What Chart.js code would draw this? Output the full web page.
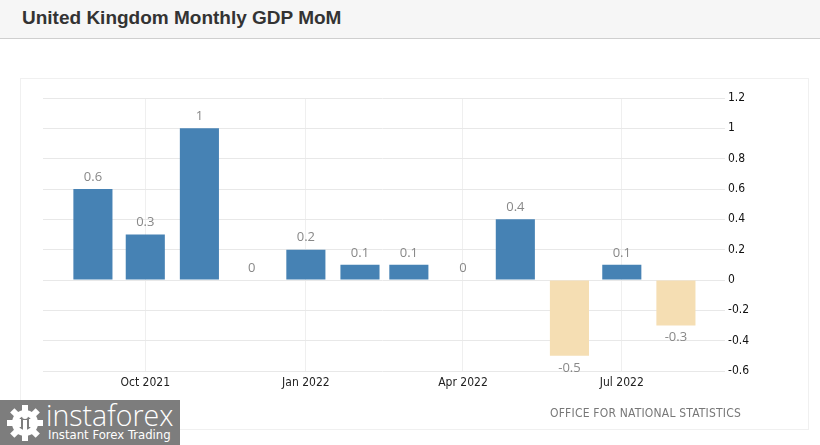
<!DOCTYPE html>
<html>
<head>
<meta charset="utf-8">
<script src="https://cdn.jsdelivr.net/npm/chart.js@4"></script>
<style>
  html, body { margin:0; padding:0; width:820px; height:445px; overflow:hidden; background:#fff; font-family:"Liberation Sans", Arial, sans-serif; }
  #titlebar { position:absolute; left:0; top:0; width:820px; height:38px; background:#f6f6f6; border-bottom:1px solid #cfcfcf; }
  #title { position:absolute; left:22px; top:7px; font-size:19px; font-weight:bold; color:#333; }
  #panel { position:absolute; left:20px; top:78px; width:787px; height:350px; border:1px solid #f0f0f0; }
  #wrap { position:absolute; left:0; top:0; width:820px; height:445px; }
  #source { position:absolute; right:79px; top:406px; font-family:"DejaVu Sans Condensed", sans-serif; font-size:12px; color:#777; letter-spacing:0.2px; }
  #logo { position:absolute; left:0; top:400px; width:180px; height:45px; background:#7d7d7d; color:#fff; overflow:hidden; }
  #logo .big { position:absolute; left:46px; top:-3px; font-family:"Open Sans", sans-serif; font-weight:300; font-size:28.5px; line-height:36px; }
  #logo .small { position:absolute; left:48px; top:27px; font-family:"Liberation Sans Narrow","DejaVu Sans Condensed", sans-serif; font-size:13px; line-height:15px; }
  #logo svg { position:absolute; left:5px; top:3px; }
</style>
</head>
<body>
<div id="titlebar"><div id="title">United Kingdom Monthly GDP MoM</div></div>
<div id="panel"></div>
<div id="wrap"><canvas id="c" width="820" height="445"></canvas></div>
<div id="source">OFFICE FOR NATIONAL STATISTICS</div>
<div id="logo">
  <svg width="40" height="40" viewBox="0 0 40 40">
    <g fill="#fff">
      <circle cx="20" cy="20" r="13"/>
      <rect x="17" y="2" width="6" height="8"/>
      <rect x="17" y="30" width="6" height="8"/>
      <rect x="2" y="17" width="8" height="6"/>
      <rect x="30" y="17" width="8" height="6"/>
      <rect x="17" y="2" width="6" height="8" transform="rotate(45 20 20)"/>
      <rect x="17" y="2" width="6" height="8" transform="rotate(-45 20 20)"/>
      <rect x="17" y="30" width="6" height="8" transform="rotate(45 20 20)"/>
      <rect x="17" y="30" width="6" height="8" transform="rotate(-45 20 20)"/>
    </g>
    <circle cx="20" cy="20" r="7" fill="#7d7d7d"/>
    <circle cx="20" cy="13" r="3" fill="#fff"/>
    <rect x="18" y="17" width="4" height="14" fill="#fff"/>
    <rect x="12" y="16" width="4" height="8" fill="#fff"/>
    <rect x="24" y="16" width="4" height="8" fill="#fff"/>
  </svg>
  <div class="big">instaforex</div>
  <div class="small">Instant Forex Trading</div>
</div>
<script>
const categories = ['Sep 2021','Oct 2021','Nov 2021','Dec 2021','Jan 2022','Feb 2022','Mar 2022','Apr 2022','May 2022','Jun 2022','Jul 2022','Aug 2022'];
const values = [0.6, 0.3, 1.0, 0, 0.2, 0.1, 0.1, 0, 0.4, -0.5, 0.1, -0.3];
const xTickLabels = ['Oct 2021', 'Jan 2022', 'Apr 2022', 'Jul 2022'];
const yTicks = [-0.6, -0.4, -0.2, 0, 0.2, 0.4, 0.6, 0.8, 1, 1.2];

const POS = '#4682b4', NEG = '#f5deb3';
const MONTHS = ['Jan','Feb','Mar','Apr','May','Jun','Jul','Aug','Sep','Oct','Nov','Dec'];
// day number of the first of each month (time axis in days)
function dayOf(label) {
  const [m, y] = label.split(' ');
  return Date.UTC(+y, MONTHS.indexOf(m), 1) / 86400000;
}
const day0 = dayOf(categories[0]);
const xs = categories.map(c => dayOf(c) - day0);

const labelPlugin = {
  id: 'valueLabels',
  afterDatasetsDraw(chart) {
    const ctx = chart.ctx;
    const meta = chart.getDatasetMeta(0);
    ctx.save();
    ctx.font = '13px "Open Sans", sans-serif';
    ctx.fillStyle = '#888';
    ctx.textAlign = 'center';
    ctx.textBaseline = 'middle';
    meta.data.forEach((el, i) => {
      const v = values[i];
      const y = v < 0 ? el.y + 12 : el.y - 12;
      ctx.fillText(String(v), el.x, y);
    });
    ctx.restore();
  }
};

new Chart(document.getElementById('c'), {
  type: 'bar',
  data: {
    datasets: [{
      data: values.map((v, i) => ({ x: xs[i], y: v })),
      backgroundColor: values.map(v => v < 0 ? NEG : POS),
      barPercentage: 0.8,
      categoryPercentage: 1,
      borderWidth: 0
    }]
  },
  options: {
    responsive: false,
    animation: false,
    events: [],
    layout: { padding: { left: 43, top: 98, right: 0, bottom: 0 } },
    plugins: { legend: { display: false }, tooltip: { enabled: false } },
    scales: {
      x: {
        type: 'linear',
        offset: false,
        min: -28.6,
        max: 360.4,
        afterBuildTicks(scale) { scale.ticks = xTickLabels.map(l => ({ value: dayOf(l) - day0 })); },
        afterFit(scale) { scale.height = 74; },
        grid: { color: '#efefef', drawTicks: false, tickLength: 0, offset: false },
        border: { display: false },
        ticks: {
          autoSkip: false,
          maxRotation: 0,
          padding: 5,
          color: '#222',
          font: { family: '"DejaVu Sans Condensed", sans-serif', size: 12 },
          callback: (v) => categories[xs.indexOf(v)]
        }
      },
      y: {
        position: 'right',
        min: -0.6,
        max: 1.2,
        afterBuildTicks(scale) { scale.ticks = yTicks.map(v => ({ value: v })); },
        afterFit(scale) { scale.width = 98; },
        grid: { color: '#e8e8e8', drawTicks: true, tickLength: 3 },
        border: { display: false },
        ticks: {
          padding: 3,
          color: '#111',
          font: { family: '"DejaVu Sans Condensed", sans-serif', size: 12 },
          callback: (v) => String(Math.round(v * 10) / 10)
        }
      }
    }
  },
  plugins: [labelPlugin]
});
</script>
</body>
</html>
